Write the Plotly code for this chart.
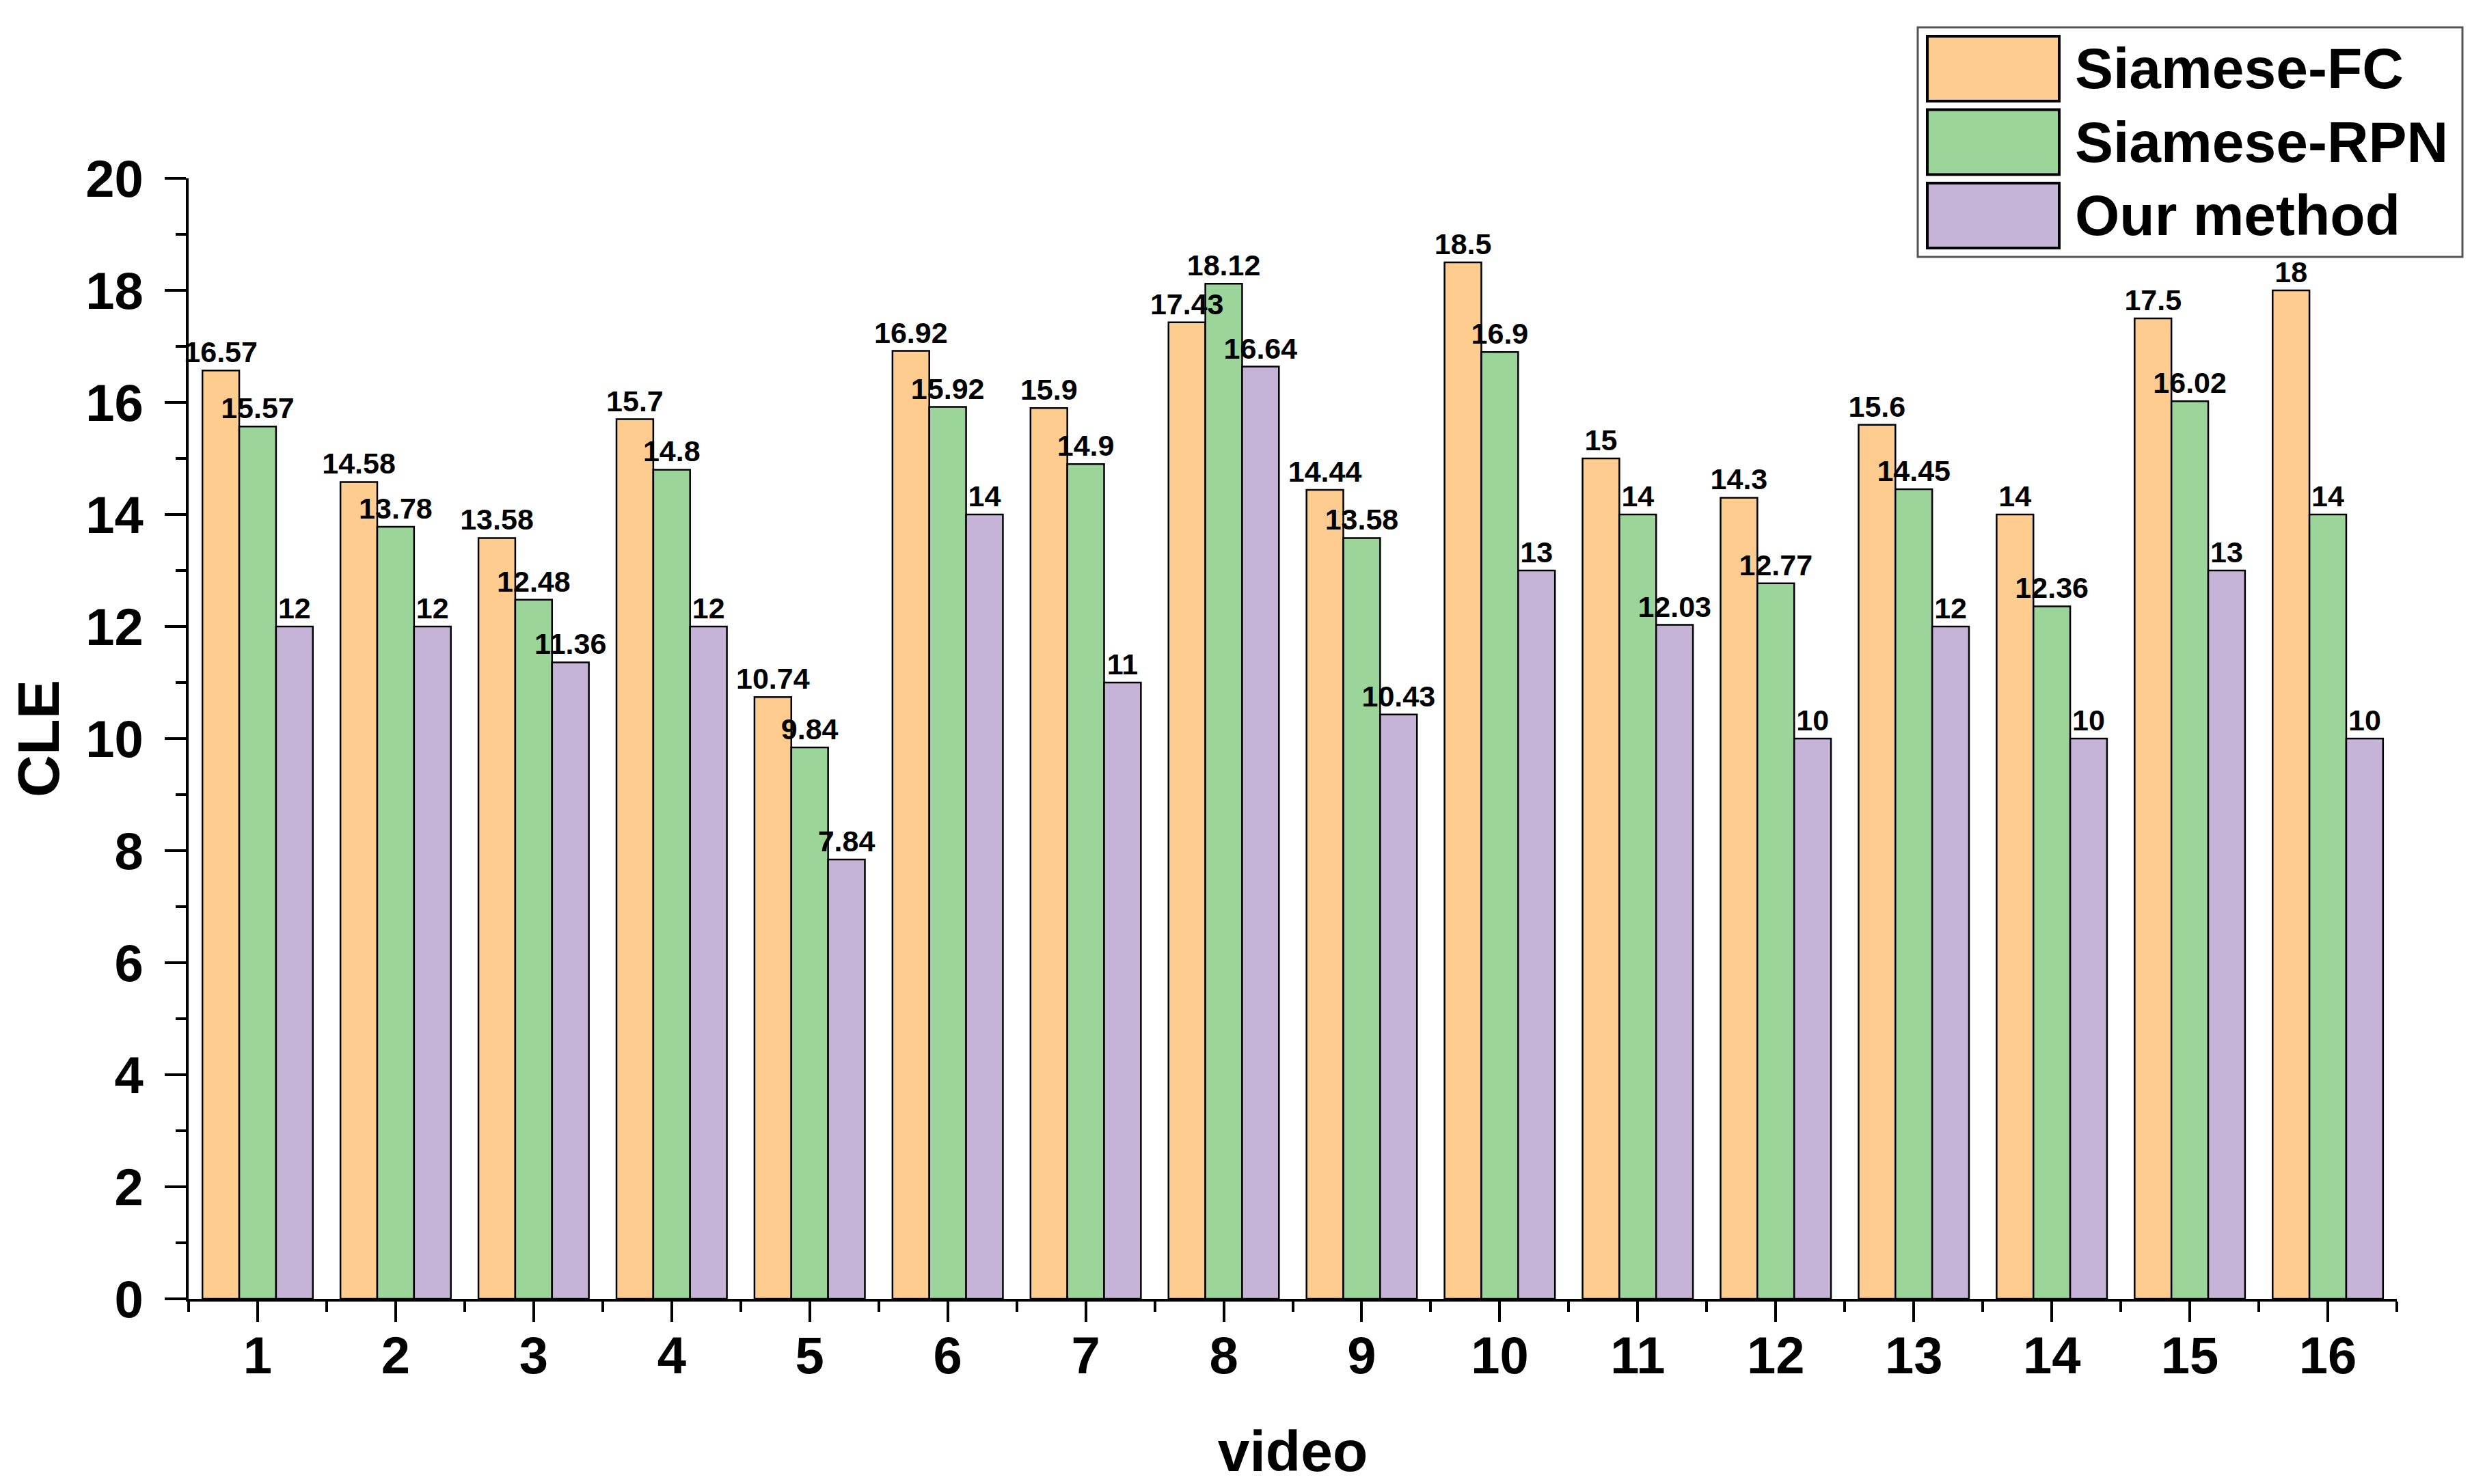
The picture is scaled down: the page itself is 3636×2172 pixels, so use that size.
import plotly.graph_objects as go

videos = list(range(1, 17))
series_names = ["Siamese-FC", "Siamese-RPN", "Our method"]
siamese_fc = [16.57, 14.58, 13.58, 15.7, 10.74, 16.92, 15.9, 17.43, 14.44, 18.5, 15, 14.3, 15.6, 14, 17.5, 18]
siamese_rpn = [15.57, 13.78, 12.48, 14.8, 9.84, 15.92, 14.9, 18.12, 13.58, 16.9, 14, 12.77, 14.45, 12.36, 16.02, 14]
our_method = [12, 12, 11.36, 12, 7.84, 14, 11, 16.64, 10.43, 13, 12.03, 10, 12, 10, 13, 10]
colors = ["#FECC8F", "#9BD59A", "#C6B4D8"]
y_ticks = [0, 2, 4, 6, 8, 10, 12, 14, 16, 18, 20]

FONT = "Liberation Sans, Arial, sans-serif"
W, H = 3636, 2172
ML, MR, MT, MB = 268, 137, 253, 279

series = [siamese_fc, siamese_rpn, our_method]
fig = go.Figure()
# bars
for i, (name, vals, col) in enumerate(zip(series_names, series, colors)):
    fig.add_trace(go.Bar(
        x=videos, y=vals, name=name, offsetgroup=str(i),
        marker=dict(color=col, line=dict(color="black", width=2.5)),
        showlegend=False, hoverinfo="skip",
    ))
# value labels drawn on top of all bars
for i, (name, vals) in enumerate(zip(series_names, series)):
    fig.add_trace(go.Bar(
        x=videos, y=vals, name=name + " labels", offsetgroup=str(i),
        marker=dict(color="rgba(0,0,0,0)", line=dict(width=0)),
        text=[f"{v:g}" for v in vals],
        textposition="outside",
        textfont=dict(family=FONT, size=43, color="black", weight="bold"),
        constraintext="none",
        cliponaxis=False,
        showlegend=False,
    ))

fig.update_layout(
    width=W, height=H,
    margin=dict(l=ML, r=MR, t=MT, b=MB),
    paper_bgcolor="white", plot_bgcolor="white",
    barmode="group", bargap=0.2, bargroupgap=0,
    font=dict(family=FONT, color="black"),
    uniformtext=dict(mode=False),
)

fig.update_xaxes(
    range=[0.5, 16.5],
    tickmode="array", tickvals=videos, ticktext=[str(v) for v in videos],
    ticks="outside", ticklen=30, tickwidth=4, tickcolor="black",
    minor=dict(tickmode="linear", tick0=0.5, dtick=1, ticks="outside", ticklen=15, tickwidth=4, tickcolor="black"),
    showline=True, linewidth=4, linecolor="black",
    showgrid=False, zeroline=False,
    tickfont=dict(family=FONT, size=76, color="black", weight="bold"),
    ticklabelstandoff=-16,
    title=dict(text="video", font=dict(family=FONT, size=84, color="black", weight="bold"), standoff=70),
)
fig.update_yaxes(
    range=[0, 20],
    tickmode="array", tickvals=y_ticks, ticktext=[str(v) for v in y_ticks],
    ticks="outside", ticklen=31, tickwidth=4, tickcolor="black",
    minor=dict(tickmode="linear", tick0=1, dtick=2, ticks="outside", ticklen=15, tickwidth=4, tickcolor="black"),
    showline=True, linewidth=4, linecolor="black",
    showgrid=False, zeroline=False,
    tickfont=dict(family=FONT, size=76, color="black", weight="bold"),
    ticklabelstandoff=16,
    title=dict(text="CLE", font=dict(family=FONT, size=86, color="black", weight="bold"), standoff=28),
)

# Custom legend (large swatches like the reference)
PW, PH = W - ML - MR, H - MT - MB
def px_x(px):
    return (px - ML) / PW
def px_y(py):
    return (H - MB - py) / PH

fig.add_shape(type="rect", xref="paper", yref="paper",
              x0=px_x(2798), x1=px_x(3595), y0=px_y(368), y1=px_y(32),
              line=dict(color="#555555", width=3), fillcolor="white", layer="above")
row_top, row_h, sw_h = 45, 107.5, 95
for i, (name, col) in enumerate(zip(series_names, colors)):
    top = row_top + i * row_h
    fig.add_shape(type="rect", xref="paper", yref="paper",
                  x0=px_x(2812), x1=px_x(3005), y0=px_y(top + sw_h), y1=px_y(top),
                  line=dict(color="black", width=4), fillcolor=col, layer="above")
    fig.add_annotation(xref="paper", yref="paper", x=px_x(3026), y=px_y(top + sw_h / 2),
                       text=name, showarrow=False, xanchor="left", yanchor="middle",
                       font=dict(family=FONT, size=84, color="black", weight="bold"))

fig.write_html("out.html")
